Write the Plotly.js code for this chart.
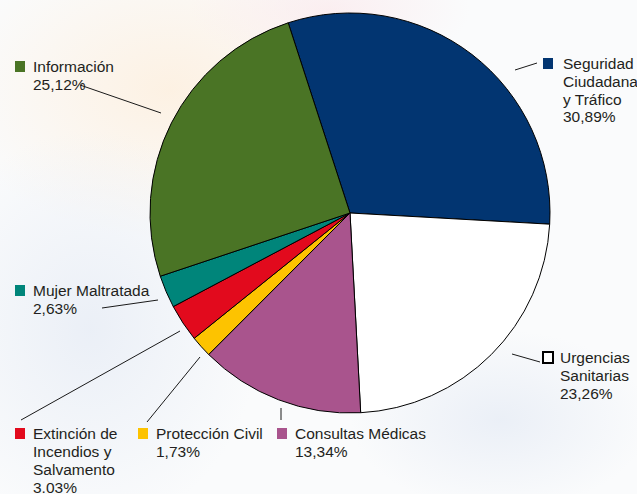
<!DOCTYPE html>
<html>
<head>
<meta charset="utf-8">
<script src="https://cdn.plot.ly/plotly-3.0.1.min.js"></script>
<style>html,body{margin:0;padding:0;background:#fff;}#chart{width:637px;height:494px;}</style>
</head>
<body>
<div id="chart"></div>
<script>
// ---- data ----
const categories = ["Seguridad Ciudadana y Tráfico", "Urgencias Sanitarias", "Consultas Médicas", "Protección Civil", "Extinción de Incendios y Salvamento", "Mujer Maltratada", "Información"];
const values = [30.89, 23.26, 13.34, 1.73, 3.03, 2.63, 25.12];
const labelLines = [["Seguridad", "Ciudadana", "y Tráfico"], ["Urgencias", "Sanitarias"], ["Consultas Médicas"], ["Protección Civil"], ["Extinción de", "Incendios y", "Salvamento"], ["Mujer Maltratada"], ["Información"]];
const colors = ["#023571", "#ffffff", "#a9548d", "#fdc300", "#e20a1d", "#00857a", "#4a7425"];

// ---- layout helpers (pixels -> paper) ----
const W = 637, H = 494;
const px = x => x / W;
const py = y => 1 - y / H;

// label placement: [squareX, firstLineY, textX]
const labelPos = [[543, 63, 561], [543, 357, 558], [277, 433, 293], [138, 433, 154], [15, 433, 31], [15, 290, 31], [15, 66, 31]];
// leader lines [x0,y0,x1,y1]
const leaders = [[515, 70, 537, 63], [512, 354, 540, 362], [281, 408, 281, 420], [147, 422, 200, 357], [21, 420, 180, 331], [102, 308, 158, 300], [80, 85, 161, 113]];

const fmt = v => v.toFixed(2).replace('.', ',') + '%';
const pctText = values.map((v, i) => i === 4 ? v.toFixed(2) + '%' : fmt(v));

const annotations = [];
const shapes = [];
const lineH = 18;
categories.forEach((c, i) => {
  const [sx, ly, tx] = labelPos[i];
  const lines = labelLines[i].concat([pctText[i]]);
  lines.forEach((t, k) => {
    annotations.push({
      xref: 'paper', yref: 'paper', x: px(tx), y: py(ly + k * lineH),
      xanchor: 'left', yanchor: 'middle', showarrow: false, text: t,
      font: {family: 'Liberation Sans, Arial, sans-serif', size: 15.5, color: '#231f20'}
    });
  });
  const isWhite = colors[i] === '#ffffff';
  shapes.push({
    type: 'rect', xref: 'paper', yref: 'paper',
    x0: px(sx), x1: px(sx + 10), y0: py(ly - 5), y1: py(ly + 6),
    fillcolor: colors[i], line: {color: isWhite ? '#000' : colors[i], width: isWhite ? 2 : 0}
  });
  const L = leaders[i];
  shapes.push({type: 'line', xref: 'paper', yref: 'paper', x0: px(L[0]), y0: py(L[1]), x1: px(L[2]), y1: py(L[3]), line: {color: '#1a1a1a', width: 1}});
});

const bgSvg = `<svg xmlns='http://www.w3.org/2000/svg' width='637' height='494'>
<defs>
<radialGradient id='a' cx='0.5' cy='0.5' r='0.5'><stop offset='0' stop-color='#fdf0e0' stop-opacity='0.9'/><stop offset='1' stop-color='#fdf0e0' stop-opacity='0'/></radialGradient>
<radialGradient id='b' cx='0.5' cy='0.5' r='0.5'><stop offset='0' stop-color='#e9eef6' stop-opacity='0.9'/><stop offset='1' stop-color='#e9eef6' stop-opacity='0'/></radialGradient>
<radialGradient id='c' cx='0.5' cy='0.5' r='0.5'><stop offset='0' stop-color='#fbe9ec' stop-opacity='0.7'/><stop offset='1' stop-color='#fbe9ec' stop-opacity='0'/></radialGradient>
</defs>
<rect width='637' height='494' fill='#fafbfc'/>
<ellipse cx='170' cy='90' rx='220' ry='150' fill='url(#a)'/>
<ellipse cx='90' cy='330' rx='170' ry='200' fill='url(#b)'/>
<ellipse cx='330' cy='10' rx='140' ry='60' fill='url(#c)'/>
<ellipse cx='500' cy='420' rx='150' ry='90' fill='url(#b)'/>
</svg>`;

const trace = {
  type: 'pie',
  labels: categories,
  values: values,
  sort: false,
  direction: 'clockwise',
  rotation: -18,
  textinfo: 'none',
  hoverinfo: 'label+percent',
  marker: {colors: colors, line: {color: '#000000', width: 1}},
  domain: {x: [px(150), px(550)], y: [py(413), py(13)]},
  showlegend: false
};

const layout = {
  width: W, height: H,
  margin: {l: 0, r: 0, t: 0, b: 0},
  paper_bgcolor: 'rgba(0,0,0,0)',
  plot_bgcolor: 'rgba(0,0,0,0)',
  showlegend: false,
  annotations: annotations,
  shapes: shapes,
  images: [{source: 'data:image/svg+xml;charset=utf-8,' + encodeURIComponent(bgSvg), xref: 'paper', yref: 'paper', x: 0, y: 1, sizex: 1, sizey: 1, xanchor: 'left', yanchor: 'top', sizing: 'stretch', layer: 'below'}]
};

Plotly.newPlot('chart', [trace], layout, {staticPlot: true, displayModeBar: false});
</script>
</body>
</html>
